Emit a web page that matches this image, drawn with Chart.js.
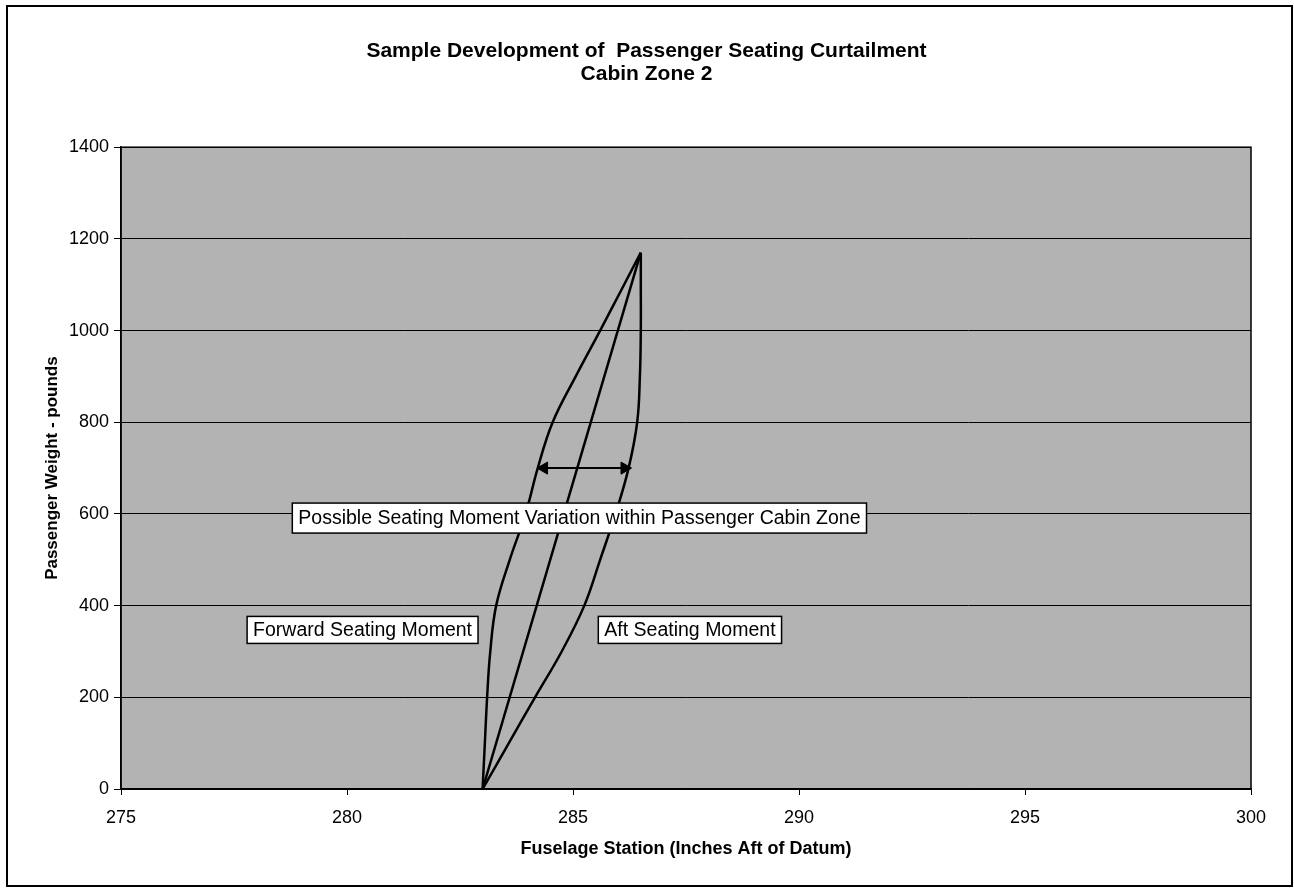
<!DOCTYPE html>
<html>
<head>
<meta charset="utf-8">
<title>Passenger Seating Curtailment</title>
<script src="https://cdn.jsdelivr.net/npm/chart.js@4/dist/chart.umd.min.js"></script>
<style>
    html, body { margin: 0; padding: 0; background: #fff; }
    #wrap { width: 1294px; height: 888px; }
</style>
</head>
<body>
<div id="wrap"><canvas id="chart" width="1294" height="888"></canvas></div>
<script>
// Passenger weight levels (pounds) used by the two seating-moment curves
const weights = [0, 100, 200, 300, 400, 500, 600, 700, 800, 900, 1000, 1100, 1170];
// Forward seating moment - fuselage station for each weight
const forwardStations = [283.0, 283.05, 283.1, 283.17, 283.3, 283.6, 283.95, 284.22, 284.55, 285.06, 285.6, 286.13, 286.5];
// Aft seating moment - fuselage station for each weight
const aftStations = [283.0, 283.58, 284.16, 284.75, 285.25, 285.6, 285.94, 286.23, 286.42, 286.48, 286.5, 286.5, 286.5];
// Centre line (straight)
const centerWeights = [0, 1170];
const centerStations = [283.0, 286.5];
// Double arrow showing the variation
const arrowStations = [284.36, 286.14];
const arrowWeights = [700, 700];

// Text boxes (left edge station, centre weight)
const noteTexts = ['Possible Seating Moment Variation within Passenger Cabin Zone', 'Forward Seating Moment', 'Aft Seating Moment'];
const noteStations = [278.79, 277.79, 285.56];
const noteWeights = [591, 347, 347];

const titleLines = ['Sample Development of  Passenger Seating Curtailment', 'Cabin Zone 2'];
const xTitle = 'Fuselage Station (Inches Aft of Datum)';
const yTitle = 'Passenger Weight - pounds';

const FONT = '"Liberation Sans", Arial, Helvetica, sans-serif';

function toPoints(xs, ys) {
    return xs.map((x, i) => ({ x: x, y: ys[i] }));
}

// plot area fill + frame, outer border, note boxes
const decorPlugin = {
    id: 'decor',
    beforeDraw(chart) {
        const ctx = chart.ctx;
        const a = chart.chartArea;
        ctx.save();
        ctx.fillStyle = '#ffffff';
        ctx.fillRect(0, 0, chart.width, chart.height);
        ctx.fillStyle = '#b3b3b3';
        ctx.fillRect(a.left, a.top, a.right - a.left, a.bottom - a.top);
        ctx.strokeStyle = '#000';
        ctx.lineWidth = 2;
        ctx.strokeRect(7, 6, 1285, 880);
        ctx.restore();
    },
    afterDraw(chart) {
        const ctx = chart.ctx;
        const a = chart.chartArea;
        const xs = chart.scales.x;
        const ys = chart.scales.y;
        ctx.save();
        ctx.strokeStyle = '#000';
        ctx.lineWidth = 1.5;
        ctx.strokeRect(a.left, a.top, a.right - a.left, a.bottom - a.top);

        ctx.font = '19.5px ' + FONT;
        ctx.textBaseline = 'middle';
        ctx.textAlign = 'left';
        noteTexts.forEach((t, i) => {
            const left = xs.getPixelForValue(noteStations[i]);
            const cy = ys.getPixelForValue(noteWeights[i]);
            const w = ctx.measureText(t).width + 12;
            const h = i === 0 ? 30 : 27;
            ctx.fillStyle = '#fff';
            ctx.fillRect(left, cy - h / 2, w, h);
            ctx.lineWidth = 1.5;
            ctx.strokeRect(left, cy - h / 2, w, h);
            ctx.fillStyle = '#000';
            ctx.fillText(t, left + 6, cy + 1);
        });
        ctx.restore();
    }
};

const lineStyle = {
    showLine: true,
    borderColor: '#000',
    backgroundColor: '#000',
    borderWidth: 2.5,
    pointRadius: 0,
    pointHoverRadius: 0,
    tension: 0.4
};

new Chart(document.getElementById('chart'), {
    type: 'scatter',
    data: {
        datasets: [
            Object.assign({ label: 'Forward Seating Moment', data: toPoints(forwardStations, weights) }, lineStyle),
            Object.assign({ label: 'Aft Seating Moment', data: toPoints(aftStations, weights) }, lineStyle),
            Object.assign({ label: 'Centre', data: toPoints(centerStations, centerWeights) }, lineStyle, { tension: 0 }),
            {
                label: 'Variation',
                data: toPoints(arrowStations, arrowWeights),
                showLine: true,
                borderColor: '#000',
                backgroundColor: '#000',
                borderWidth: 2,
                pointStyle: 'triangle',
                pointRadius: 7,
                pointRotation: [-90, 90],
                pointBorderWidth: 1
            }
        ]
    },
    options: {
        responsive: false,
        animation: false,
        events: [],
        layout: { padding: { left: 42, right: 43, top: 0, bottom: 18 } },
        plugins: {
            legend: { display: false },
            tooltip: { enabled: false },
            title: {
                display: true,
                text: titleLines,
                color: '#000',
                font: { family: FONT, size: 21, weight: 'bold', lineHeight: 1.1 },
                padding: { top: 40, bottom: 61 }
            }
        },
        scales: {
            x: {
                type: 'linear',
                min: 275,
                max: 300,
                afterFit(scale) { scale.height = 81; },
                ticks: {
                    stepSize: 5,
                    color: '#000',
                    padding: 12,
                    font: { family: FONT, size: 18 }
                },
                grid: {
                    drawOnChartArea: false,
                    drawTicks: true,
                    tickLength: 6,
                    color: '#000'
                },
                border: { color: '#000', width: 1.5 },
                title: {
                    display: true,
                    text: xTitle,
                    color: '#000',
                    font: { family: FONT, size: 18, weight: 'bold' },
                    padding: { top: 0, bottom: 10 }
                }
            },
            y: {
                type: 'linear',
                min: 0,
                max: 1400,
                afterFit(scale) { scale.width = 79; },
                ticks: {
                    stepSize: 200,
                    color: '#000',
                    padding: 5,
                    font: { family: FONT, size: 18 },
                    callback: value => String(value)
                },
                grid: {
                    color: '#000',
                    lineWidth: 1,
                    tickLength: 7
                },
                border: { color: '#000', width: 1.5 },
                title: {
                    display: true,
                    text: yTitle,
                    color: '#000',
                    font: { family: FONT, size: 17, weight: 'bold' },
                    padding: { top: 0, bottom: 0 }
                }
            }
        }
    },
    plugins: [decorPlugin]
});
</script>
</body>
</html>
